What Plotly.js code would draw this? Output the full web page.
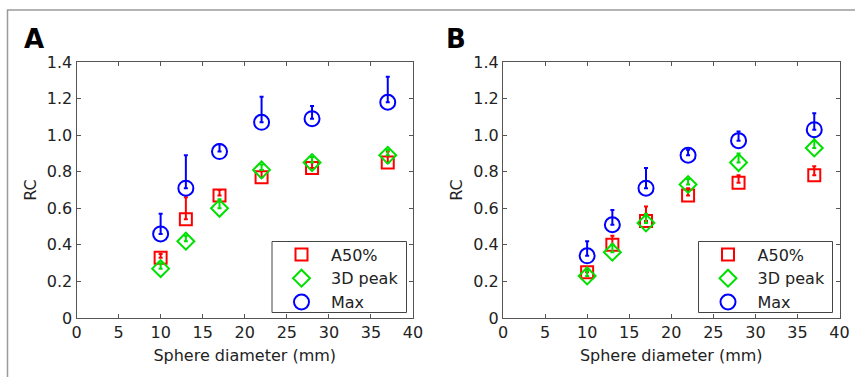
<!DOCTYPE html>
<html>
<head>
<meta charset="utf-8">
<script src="https://cdn.plot.ly/plotly-3.0.1.min.js"></script>
<style>
  html, body { margin: 0; padding: 0; background: #fff; }
  #chart { width: 855px; height: 377px; }
</style>
</head>
<body>
<div id="chart"></div>
<script>
// ---- data ----
const diameters = [10, 13, 17, 22, 28, 37];

// Panel A
const a50A      = [0.33, 0.54, 0.67, 0.77, 0.82, 0.85];
const a50AErr   = [0.02, 0.12, 0.03, 0.04, 0.06, 0.06];
const peakA     = [0.27, 0.42, 0.60, 0.81, 0.85, 0.89];
const peakAErr  = [0.03, 0.03, 0.05, 0.03, 0.03, 0.03];
const maxA      = [0.46, 0.71, 0.91, 1.07, 1.09, 1.18];
const maxAErr   = [0.11, 0.18, 0.04, 0.14, 0.07, 0.14];

// Panel B
const a50B      = [0.25, 0.40, 0.53, 0.67, 0.74, 0.78];
const a50BErr   = [0.02, 0.05, 0.08, 0.04, 0.04, 0.05];
const peakB     = [0.23, 0.36, 0.52, 0.73, 0.85, 0.93];
const peakBErr  = [0.03, 0.04, 0.05, 0.03, 0.05, 0.06];
const maxB      = [0.34, 0.51, 0.71, 0.89, 0.97, 1.03];
const maxBErr   = [0.08, 0.08, 0.11, 0.03, 0.05, 0.09];

const seriesNames = ['A50%', '3D peak', 'Max'];
const xTickVals = [0, 5, 10, 15, 20, 25, 30, 35, 40];
const yTickVals = [0, 0.2, 0.4, 0.6, 0.8, 1.0, 1.2, 1.4];
const yTickText = ['0', '0.2', '0.4', '0.6', '0.8', '1.0', '1.2', '1.4'];
const panelLabels = ['A', 'B'];
const xTitle = 'Sphere diameter (mm)';
const yTitle = 'RC';

// ---- styles ----
const W = 855, H = 377;
const FONT = 'DejaVu Sans, Liberation Sans, Arial, sans-serif';
const styles = [
  {color: 'rgb(255,0,0)', symbol: 'square-open',  size: 12},
  {color: 'rgb(0,224,0)', symbol: 'diamond-open', size: 13},
  {color: 'rgb(0,0,255)', symbol: 'circle-open',  size: 15}
];

function seriesTrace(xa, ya, name, y, err, st, legendId) {
  return {
    type: 'scatter', mode: 'markers', x: diameters, y: y, name: name,
    xaxis: xa, yaxis: ya, legend: legendId, showlegend: true, hoverinfo: 'skip',
    marker: {symbol: st.symbol, size: st.size, color: st.color,
             line: {color: st.color, width: 2}},
    error_y: {type: 'data', array: err, arrayminus: err.map(() => 0),
              symmetric: false, color: st.color, thickness: 2, width: 2}
  };
}

const panelA = [a50A, peakA, maxA], panelAErr = [a50AErr, peakAErr, maxAErr];
const panelB = [a50B, peakB, maxB], panelBErr = [a50BErr, peakBErr, maxBErr];

const traces = [];
for (let i = 0; i < 3; i++) traces.push(seriesTrace('x', 'y', seriesNames[i], panelA[i], panelAErr[i], styles[i], 'legend2'));
for (let i = 0; i < 3; i++) traces.push(seriesTrace('x2', 'y2', seriesNames[i], panelB[i], panelBErr[i], styles[i], 'legend3'));

const px = v => v / W;
const py = v => 1 - v / H;
const yDom = [py(318), py(62)];

function xAxis(domain, anchor) {
  return {
    domain: domain, anchor: anchor, range: [0, 40],
    tickmode: 'array', tickvals: xTickVals,
    ticks: 'inside', ticklen: 4, tickcolor: '#555', tickwidth: 1,
    showline: true, linecolor: '#555', linewidth: 1, mirror: 'ticks',
    showgrid: false, zeroline: false,
    tickfont: {family: FONT, size: 16, color: '#222'},
    title: {text: xTitle, font: {family: FONT, size: 16, color: '#222'}, standoff: 8}
  };
}
function yAxis(anchor) {
  return {
    domain: yDom, anchor: anchor, range: [0, 1.4],
    tickmode: 'array', tickvals: yTickVals, ticktext: yTickText,
    ticks: 'inside', ticklen: 4, tickcolor: '#555', tickwidth: 1,
    showline: true, linecolor: '#555', linewidth: 1, mirror: 'ticks',
    showgrid: false, zeroline: false,
    tickfont: {family: FONT, size: 16, color: '#222'},
    title: {text: yTitle, font: {family: FONT, size: 16, color: '#222'}, standoff: 6}
  };
}
function legendCfg(left) {
  return {
    x: px(left), y: py(237.5), xanchor: 'left', yanchor: 'top',
    bgcolor: 'rgba(0,0,0,0)', borderwidth: 0,
    font: {family: FONT, size: 16, color: '#222'},
    itemwidth: 49, tracegroupgap: 0
  };
}
function legendBox(x0, x1) {
  return {
    type: 'rect', xref: 'paper', yref: 'paper', layer: 'above',
    x0: px(x0), x1: px(x1), y0: py(312.5), y1: py(241.5),
    line: {color: '#444', width: 1}, fillcolor: '#ffffff'
  };
}

const layout = {
  width: W, height: H,
  margin: {l: 0, r: 0, t: 0, b: 0},
  paper_bgcolor: '#fff', plot_bgcolor: '#fff',
  font: {family: FONT, size: 16, color: '#222'},
  xaxis: xAxis([px(76.5), px(413)], 'y'),
  yaxis: yAxis('x'),
  xaxis2: xAxis([px(503), px(839.5)], 'y2'),
  yaxis2: yAxis('x2'),
  showlegend: true,
  legend2: legendCfg(272),
  legend3: legendCfg(698.5),
  shapes: [
    {type: 'rect', xref: 'paper', yref: 'paper',
     x0: px(7.5), x1: 1.05, y0: -0.05, y1: py(10),
     line: {color: '#9a9a9a', width: 1.5}, fillcolor: 'rgba(0,0,0,0)'},
    legendBox(272, 406.5),
    legendBox(698.5, 832.5)
  ],
  annotations: [
    {text: panelLabels[0], xref: 'paper', yref: 'paper', x: px(22), y: py(39), xanchor: 'left', yanchor: 'middle',
     showarrow: false, font: {family: 'DejaVu Sans, Arial, sans-serif', size: 26, color: '#000', weight: 'bold'}},
    {text: panelLabels[1], xref: 'paper', yref: 'paper', x: px(444), y: py(39), xanchor: 'left', yanchor: 'middle',
     showarrow: false, font: {family: 'DejaVu Sans, Arial, sans-serif', size: 26, color: '#000', weight: 'bold'}}
  ]
};

Plotly.newPlot('chart', traces, layout, {staticPlot: true, displayModeBar: false});
</script>
</body>
</html>
